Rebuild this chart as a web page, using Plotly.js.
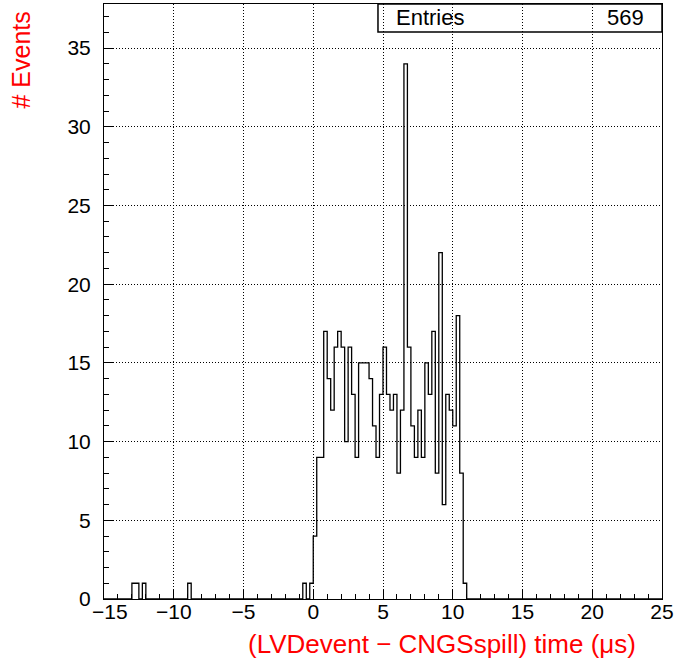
<!DOCTYPE html>
<html>
<head>
<meta charset="utf-8">
<script src="https://cdn.plot.ly/plotly-3.0.1.min.js"></script>
<style>
  html, body { margin: 0; padding: 0; background: #fff; }
  #plot { width: 691px; height: 661px; }
</style>
</head>
<body>
<div id="plot"></div>
<script>
// histogram: 160 bins of 0.25 us from -15 to 25
const histLow = -15
const histHigh = 25
const binWidth = 0.25
const entries = 569

// isolated early bins (left edge, count)
const tailEdges = [-13, -12.75, -12.25, -9, -0.75, -0.25]
const tailCounts = [1, 1, 1, 1, 1, 1]

// main peak, consecutive bins starting at 0
const mainStart = 0
const mainCounts = [
    4, 9, 9, 17, 14, 12, 16, 17, 16, 10,
    16, 13, 9, 15, 15, 15, 14, 11, 9, 13,
    16, 13, 12, 13, 8, 12, 34, 16, 11, 9,
    12, 9, 15, 13, 17, 8, 22, 6, 13, 12,
    11, 18, 8, 1
]

const xTickVals = [-15, -10, -5, 0, 5, 10, 15, 20, 25]
const yTickVals = [0, 5, 10, 15, 20, 25, 30, 35]

function build_step()
{
    const nBins = Math.round((histHigh - histLow) / binWidth)
    let counts = new Array(nBins).fill(0)
    for (let i = 0; i < tailEdges.length; i++) {
        counts[Math.round((tailEdges[i] - histLow) / binWidth)] = tailCounts[i]
    }
    const first = Math.round((mainStart - histLow) / binWidth)
    for (let i = 0; i < mainCounts.length; i++) {
        counts[first + i] = mainCounts[i]
    }
    let x = []
    let y = []
    for (let i = 0; i <= nBins; i++) {
        x.push(histLow + i * binWidth)
        y.push(counts[Math.min(i, nBins - 1)])
    }
    return { x: x, y: y }
}

function tick_label(v)
{
    return v < 0 ? '\u2212' + Math.abs(v) : String(v)
}

const step = build_step()
const font = "'Liberation Sans', Arial, Helvetica, sans-serif"

const data = [{
    type: 'scatter',
    mode: 'lines',
    x: step.x,
    y: step.y,
    line: { shape: 'hv', color: '#000', width: 1.3 },
    hoverinfo: 'skip',
}]

const axisCommon = {
    showline: true,
    linecolor: '#000',
    linewidth: 1,
    mirror: true,
    ticks: 'inside',
    ticklen: 9,
    tickcolor: '#000',
    showgrid: true,
    gridcolor: '#000',
    griddash: '1px,2px',
    gridwidth: 1,
    zeroline: false,
    tickfont: { family: font, size: 21, color: '#000' },
    tickmode: 'array',
    minor: { ticks: 'inside', ticklen: 5, dtick: 1, tickcolor: '#000', showgrid: false },
}

// first x label is nudged right (as ROOT does) so it clears the y "0"
const xTickText = xTickVals.map((v, i) => i == 0 ? '' : tick_label(v))

const layout = {
    width: 691,
    height: 661,
    margin: { l: 104, r: 29, t: 4, b: 62 },
    paper_bgcolor: '#fff',
    plot_bgcolor: '#fff',
    showlegend: false,
    xaxis: Object.assign({}, axisCommon, {
        range: [histLow, histHigh],
        tickvals: xTickVals,
        ticktext: xTickText,
        ticklabelstandoff: -6,
    }),
    yaxis: Object.assign({}, axisCommon, {
        range: [0, 37.8],
        tickvals: yTickVals,
        ticktext: yTickVals.map(String),
        ticklabelstandoff: 8,
    }),
    shapes: [{
        type: 'rect',
        xref: 'paper', yref: 'paper',
        x0: 0.491, x1: 1, y0: 0.953, y1: 1,
        line: { color: '#000', width: 1.5 },
        fillcolor: 'rgba(0,0,0,0)',
    }],
    annotations: [
        {
            text: tick_label(xTickVals[0]), xref: 'x', yref: 'paper',
            x: xTickVals[0], y: 0, xanchor: 'center', yanchor: 'top',
            xshift: 6, yshift: 1,
            showarrow: false, font: { family: font, size: 21, color: '#000' },
        },
        {
            text: 'Entries', xref: 'paper', yref: 'paper',
            x: 0.5197, y: 0.9765, xanchor: 'left', yanchor: 'middle',
            showarrow: false, font: { family: font, size: 22, color: '#000' },
        },
        {
            text: String(entries), xref: 'paper', yref: 'paper',
            x: 0.9713, y: 0.9765, xanchor: 'right', yanchor: 'middle',
            showarrow: false, font: { family: font, size: 22, color: '#000' },
        },
        {
            // x axis title, right aligned like ROOT
            text: '(LVDevent \u2212 CNGSspill) time (\u03bcs)', xref: 'paper', yref: 'paper',
            x: 0.957, y: -0.0756, xanchor: 'right', yanchor: 'middle',
            showarrow: false, font: { family: font, size: 26, color: '#ff0000' },
        },
        {
            // y axis title
            text: '# Events', xref: 'paper', yref: 'paper', textangle: -90,
            x: -0.1487, y: 0.99, xanchor: 'center', yanchor: 'top',
            showarrow: false, font: { family: font, size: 25, color: '#ff0000' },
        },
    ],
}

Plotly.newPlot('plot', data, layout, { displayModeBar: false, staticPlot: true })
</script>
</body>
</html>
